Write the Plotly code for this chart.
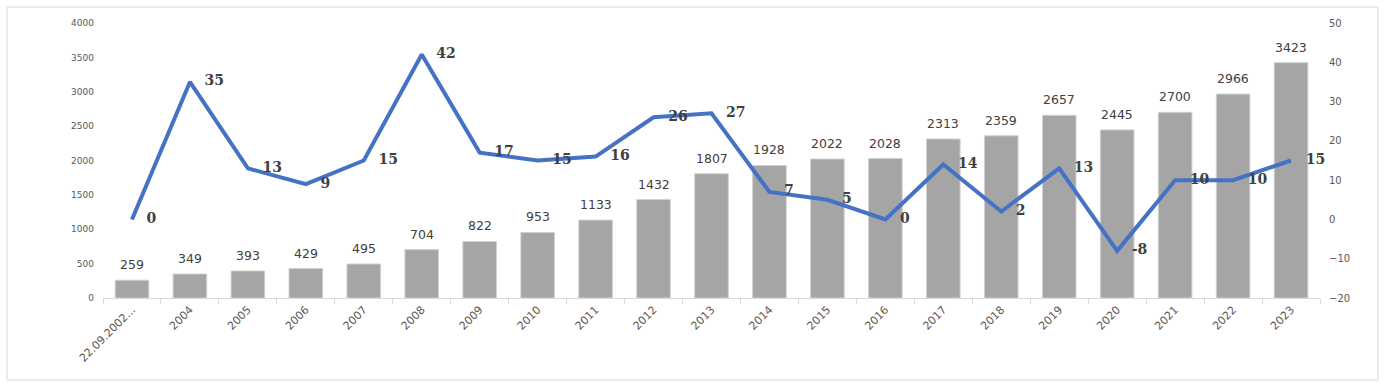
import plotly.graph_objects as go

categories = ["22.09.2002...", "2004", "2005", "2006", "2007", "2008", "2009", "2010", "2011",
              "2012", "2013", "2014", "2015", "2016", "2017", "2018", "2019", "2020", "2021",
              "2022", "2023"]
bar_values = [259, 349, 393, 429, 495, 704, 822, 953, 1133, 1432, 1807, 1928, 2022, 2028,
              2313, 2359, 2657, 2445, 2700, 2966, 3423]
line_values = [0, 35, 13, 9, 15, 42, 17, 15, 16, 26, 27, 7, 5, 0, 14, 2, 13, -8, 10, 10, 15]
left_ticks = [0, 500, 1000, 1500, 2000, 2500, 3000, 3500, 4000]
right_ticks = [-20, -10, 0, 10, 20, 30, 40, 50]

fig = go.Figure()
fig.add_trace(go.Bar(
    x=categories, y=bar_values, width=0.58,
    marker=dict(color="#A5A5A5", line=dict(color="#D0D0D0", width=1)),
    showlegend=False,
))
fig.add_trace(go.Scatter(
    x=categories, y=line_values, yaxis="y2", mode="lines+text",
    line=dict(color="#4472C4", width=4),
    text=["   " + str(v) for v in line_values], textposition="middle right",
    textfont=dict(family="DejaVu Serif", size=14, color="#404040", weight="bold"),
    cliponaxis=False, showlegend=False,
))

for i, val in enumerate(bar_values):
    fig.add_annotation(
        x=i, y=val, xref="x", yref="y", text=str(val), showarrow=False,
        yanchor="bottom", yshift=6,
        font=dict(family="DejaVu Sans", size=12.5, color="#404040"),
    )

fig.update_layout(
    width=1385, height=387,
    margin=dict(l=103, r=65, t=23, b=89, autoexpand=False),
    plot_bgcolor="white", paper_bgcolor="white",
    bargap=0.42,
    xaxis=dict(
        type="category", tickangle=-45, showgrid=False, automargin=False,
        range=[-0.5, len(categories) - 0.5],
        showline=True, linecolor="#D9D9D9", linewidth=1,
        ticks="outside", tickson="boundaries", ticklen=5, tickcolor="#D9D9D9",
        tickfont=dict(family="DejaVu Sans", size=11, color="#595959"),
    ),
    yaxis=dict(
        range=[0, 4000], tickvals=left_ticks, showgrid=False, zeroline=False,
        showline=False, ticks="", ticklabelstandoff=8, automargin=False,
        tickfont=dict(family="DejaVu Sans", size=9, color="#595959"),
    ),
    yaxis2=dict(
        range=[-20, 50], tickvals=right_ticks, overlaying="y", side="right",
        showgrid=False, zeroline=False, showline=False, ticks="",
        ticklabelstandoff=8, automargin=False,
        tickfont=dict(family="DejaVu Sans", size=10, color="#595959"),
    ),
    shapes=[dict(type="rect", xref="paper", yref="paper",
                 x0=-96/1217, x1=1+58/1217, y0=-82/275, y1=1+16/275,
                 line=dict(color="#D9D9D9", width=1), layer="below")],
)

fig.write_html("out.html", config={"displayModeBar": False},
               post_script="document.body.style.margin='0';")
